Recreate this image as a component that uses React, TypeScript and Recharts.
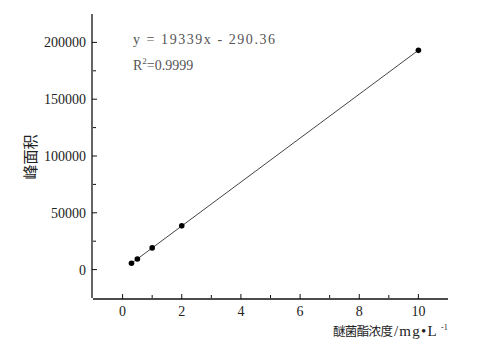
import React from 'react';
import { ScatterChart, Scatter, XAxis, YAxis } from 'recharts';

// measured points (concentration mg/L vs peak area)
const CONC = [0.3, 0.5, 1, 2, 10];
const AREA = [5600, 9300, 19100, 38500, 193000];

// end points of the fitted line
const FIT_X = [0.3, 10];
const FIT_Y = [5510, 193100];

const X_TICKS = [0, 2, 4, 6, 8, 10];
const X_MINOR = [1, 3, 5, 7, 9];
const Y_TICKS = [0, 50000, 100000, 150000, 200000];
const Y_MINOR = [25000, 75000, 125000, 175000];

const points = CONC.map((x, i) => ({ x, y: AREA[i] }));
const fit = FIT_X.map((x, i) => ({ x, y: FIT_Y[i] }));

const SERIF = '"Liberation Serif", "Times New Roman", serif';
const CJK = '"Noto Sans CJK SC", sans-serif';
const tickStyle = { fill: '#222', fontSize: 14, fontFamily: SERIF };
const axisLine = { stroke: '#111', strokeWidth: 1.3 };

const Dot = (props: any) => <circle cx={props.cx} cy={props.cy} r={2.8} fill="#000" />;
const NoDot = () => <g />;
const blank = () => '';

export default function App() {
  return (
    <div style={{ position: 'absolute', left: 0, top: 0, width: 485, height: 348, background: '#fff' }}>
      <ScatterChart width={485} height={348} margin={{ top: 14, right: 37, bottom: 20, left: 33 }}>
        <XAxis xAxisId="main" type="number" dataKey="x" domain={[-1, 11]} ticks={X_TICKS}
          height={29} axisLine={axisLine} tickLine={{ stroke: '#111' }} tickSize={-5} tickMargin={12}
          tick={tickStyle} allowDataOverflow />
        <YAxis yAxisId="main" type="number" dataKey="y" domain={[-25000, 225000]} ticks={Y_TICKS}
          width={59} axisLine={axisLine} tickLine={{ stroke: '#111' }} tickSize={-5} tickMargin={11}
          tick={tickStyle} allowDataOverflow />
        {/* minor ticks, sitting on the main axis lines */}
        <XAxis xAxisId="aminor" type="number" dataKey="x" domain={[-1, 11]} ticks={X_MINOR} interval={0}
          height={1} axisLine={false} tickSize={-3} tickLine={{ stroke: '#111' }} tickFormatter={blank} />
        <YAxis yAxisId="aminor" type="number" dataKey="y" domain={[-25000, 225000]} ticks={Y_MINOR} interval={0}
          width={1} axisLine={false} tickSize={-3} tickLine={{ stroke: '#111' }} tickFormatter={blank} />
        <Scatter xAxisId="aminor" yAxisId="aminor" data={points} shape={NoDot} isAnimationActive={false} />
        <Scatter xAxisId="main" yAxisId="main" data={fit} line={{ stroke: '#444', strokeWidth: 1 }}
          lineType="joint" shape={NoDot} isAnimationActive={false} />
        <Scatter xAxisId="main" yAxisId="main" data={points} shape={Dot} isAnimationActive={false} />
      </ScatterChart>
      <svg width={485} height={348} style={{ position: 'absolute', left: 0, top: 0, pointerEvents: 'none' }}>
        <text x={133} y={44} fontFamily={SERIF} fontSize={14} fill="#555" textLength={142}
          lengthAdjust="spacing" style={{ whiteSpace: 'pre' }}>y = 19339x - 290.36</text>
        <text x={133} y={70} fontFamily={SERIF} fontSize={14} fill="#555">
          R<tspan fontSize={9} dy={-6}>2</tspan><tspan dy={6}>=0.9999</tspan>
        </text>
        <text x={29} y={157} transform="rotate(-90 29 157)" textAnchor="middle" dominantBaseline="central"
          fontFamily={CJK} fontSize={15} fill="#222">峰面积</text>
        <text x={333} y={336} fontFamily={CJK} fontSize={12.5} fill="#222" textLength={60}
          lengthAdjust="spacing">醚菌酯浓度</text>
        <text x={394} y={336} fontFamily={SERIF} fontSize={15} fill="#222" letterSpacing={1.2}>/mg•L</text>
        <text x={441} y={330} fontFamily={SERIF} fontSize={8} fill="#222">-1</text>
      </svg>
    </div>
  );
}
